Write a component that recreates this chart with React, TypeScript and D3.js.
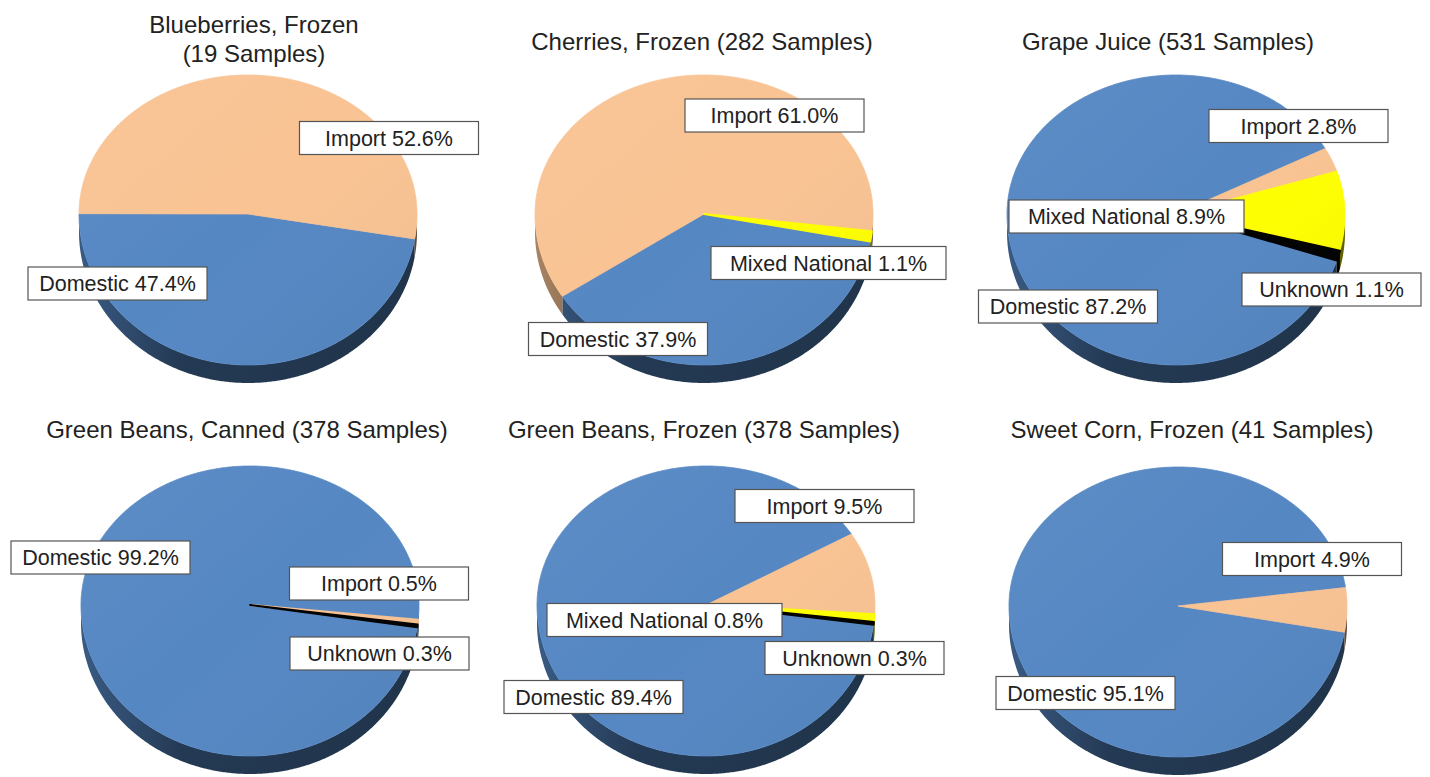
import * as d3 from 'd3';

const width = 1430;
const height = 777;

// ---- data ----
const titles = [
  ['Blueberries, Frozen', '(19 Samples)'],
  ['Cherries, Frozen (282 Samples)'],
  ['Grape Juice (531 Samples)'],
  ['Green Beans, Canned (378 Samples)'],
  ['Green Beans, Frozen (378 Samples)'],
  ['Sweet Corn, Frozen (41 Samples)'],
];

const sliceNames = [
  ['Domestic', 'Import'],
  ['Domestic', 'Import', 'Mixed National'],
  ['Domestic', 'Import', 'Mixed National', 'Unknown'],
  ['Domestic', 'Import', 'Unknown'],
  ['Domestic', 'Import', 'Mixed National', 'Unknown'],
  ['Domestic', 'Import'],
];

const sliceValues = [
  [47.4, 52.6],
  [37.9, 61.0, 1.1],
  [87.2, 2.8, 8.9, 1.1],
  [99.2, 0.5, 0.3],
  [89.4, 9.5, 0.8, 0.3],
  [95.1, 4.9],
];

const colors: Record<string, string> = {
  Domestic: '#5587c3',
  Import: '#f9c393',
  'Mixed National': '#ffff00',
  Unknown: '#000000',
};

// ---- layout ----
const pieX = [248, 704, 1176, 250, 706, 1178];
const pieY = [214, 214, 214, 605, 605, 606];
const startDeg = [9.5, 10.5, 18, 8.5, 7.5, 10]; // first slice start, clockwise from 3 o'clock
const titleX = [254, 702, 1168, 247, 704, 1192];
const titleY = [33, 50, 50, 438, 438, 438];
const labelOffsets = [
  [[-130.5, 69.5], [141, -76]],
  [[-86, 125], [70.5, -98.5], [124.5, 49]],
  [[-108, 92.5], [122.5, -88], [-49.5, 2.5], [155.5, 75.5]],
  [[-149.5, -47.5], [129, -21.5], [129.5, 48.5]],
  [[-112.5, 92], [118.5, -99], [-41.5, 15], [148.5, 53]],
  [[-92.5, 87], [134, -47]],
];

const rx = 169;
const ryTop = 139;
const ryBot = 151;
const depth = 18;
const font = 'Liberation Sans, Arial, Helvetica, sans-serif';

function pt(cx: number, cy: number, t: number): [number, number] {
  const s = Math.sin(t);
  return [cx + rx * Math.cos(t), cy + (s < 0 ? ryTop : ryBot) * s];
}

function samples(t0: number, t1: number) {
  const n = Math.max(2, Math.ceil((t1 - t0) / (Math.PI / 360)));
  return d3.range(n + 1).map((k) => t0 + ((t1 - t0) * k) / n);
}

function Pie3D({ i }: { i: number }) {
  const cx = pieX[i];
  const cy = pieY[i];
  const s0 = (startDeg[i] * Math.PI) / 180;
  const names = sliceNames[i];
  const arcs = d3
    .pie<number>()
    .sort(null)
    .value((d) => d)
    .startAngle(s0 + Math.PI / 2)
    .endAngle(s0 + Math.PI / 2 + 2 * Math.PI)(sliceValues[i]);

  const line = d3.line();
  const gid = (n: string) => `rim-${i}-${n.replace(' ', '')}`;

  return (
    <g>
      <defs>
        {names.map((n) => {
          const c = d3.color(colors[n])!;
          return (
            <linearGradient
              key={n}
              id={gid(n)}
              gradientUnits="userSpaceOnUse"
              x1={cx - rx}
              x2={cx + rx}
              y1={0}
              y2={0}
            >
              <stop offset="0" stopColor={c.darker(1.1).formatHex()} />
              <stop offset="0.3" stopColor={c.darker(2.4).formatHex()} />
              <stop offset="1" stopColor={c.darker(2.7).formatHex()} />
            </linearGradient>
          );
        })}
        <linearGradient id={`face-${i}`} x1="0" y1="0" x2="1" y2="1">
          <stop offset="0" stopColor="#ffffff" stopOpacity={0.05} />
          <stop offset="0.5" stopColor="#ffffff" stopOpacity={0} />
          <stop offset="1" stopColor="#000000" stopOpacity={0.06} />
        </linearGradient>
      </defs>

      {/* rim */}
      {arcs.map((a, j) => {
        const t0 = a.startAngle - Math.PI / 2;
        const t1 = a.endAngle - Math.PI / 2;
        const segs: [number, number][] = [];
        for (let k = -1; k <= 2; k++) {
          const lo = Math.max(t0, 2 * Math.PI * k);
          const hi = Math.min(t1, 2 * Math.PI * k + Math.PI);
          if (hi > lo) segs.push([lo, hi]);
        }
        return segs.map(([lo, hi], m) => {
          const ts = samples(lo, hi);
          const top = ts.map((t) => pt(cx, cy, t));
          const bot = ts
            .slice()
            .reverse()
            .map((t) => {
              const p = pt(cx, cy, t);
              return [p[0], p[1] + depth] as [number, number];
            });
          return (
            <path
              key={`r${j}-${m}`}
              d={line([...top, ...bot])! + 'Z'}
              fill={`url(#${gid(names[j])})`}
            />
          );
        });
      })}

      {/* top face */}
      {arcs.map((a, j) => {
        const ts = samples(a.startAngle - Math.PI / 2, a.endAngle - Math.PI / 2);
        const pts = [[cx, cy] as [number, number], ...ts.map((t) => pt(cx, cy, t))];
        const small = sliceValues[i][j] < 2;
        return (
          <path
            key={`f${j}`}
            d={line(pts)! + 'Z'}
            fill={colors[names[j]]}
            stroke={colors[names[j]]}
            strokeWidth={small ? 2 : 0.8}
            strokeLinejoin="round"
          />
        );
      })}
      <path
        d={line(samples(0, 2 * Math.PI).map((t) => pt(cx, cy, t)))! + 'Z'}
        fill={`url(#face-${i})`}
        pointerEvents="none"
      />

      {/* labels */}
      {arcs.map((a, j) => {
        const [dx, dy] = labelOffsets[i][j];
        const w = names[j] === 'Mixed National' ? 235 : 179;
        const h = 33;
        const lx = cx + dx;
        const ly = cy + dy;
        return (
          <g key={`l${j}`}>
            <rect x={lx - w / 2} y={ly - h / 2} width={w} height={h} fill="#ffffff" stroke="#555555" strokeWidth={1.2} />
            <text x={lx} y={ly} dy="0.36em" textAnchor="middle" fontFamily={font} fontSize={21.5} fill="#222222">
              {`${names[j]} ${sliceValues[i][j].toFixed(1)}%`}
            </text>
          </g>
        );
      })}

      {/* title */}
      {titles[i].map((tl, k) => (
        <text
          key={`t${k}`}
          x={titleX[i]}
          y={titleY[i] + k * 29}
          textAnchor="middle"
          fontFamily={font}
          fontSize={24}
          fill="#222222"
        >
          {tl}
        </text>
      ))}
    </g>
  );
}

export default function App() {
  return (
    <svg
      width={width}
      height={height}
      viewBox={`0 0 ${width} ${height}`}
      style={{ position: 'absolute', left: 0, top: 0, background: '#ffffff' }}
    >
      <rect width={width} height={height} fill="#ffffff" />
      {titles.map((_, i) => (
        <Pie3D key={i} i={i} />
      ))}
    </svg>
  );
}
